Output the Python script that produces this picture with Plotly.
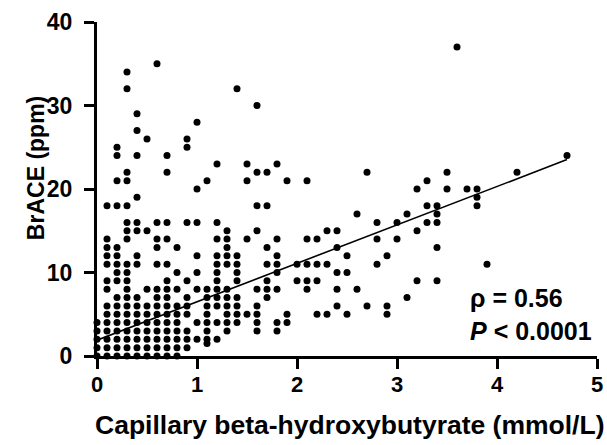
import plotly.graph_objects as go

# BHB (mmol/L) columns and BrACE (ppm) values per column
bhb_levels = [0.0, 0.1, 0.2, 0.3, 0.4, 0.5, 0.6, 0.7, 0.8, 0.9, 1.0,
              1.1, 1.2, 1.3, 1.4, 1.5, 1.6, 1.7, 1.8, 1.9, 2.0,
              2.1, 2.2, 2.3, 2.4, 2.5, 2.6, 2.7, 2.8, 2.9, 3.0,
              3.1, 3.2, 3.3, 3.4, 3.5, 3.6, 3.7, 3.8, 3.9, 4.2, 4.7]
brace_by_level = [
    [0, 1, 2, 3, 4],
    [18, 14, 13, 12, 11, 9, 8, 6, 5, 4, 3, 2, 1, 0],
    [25, 24, 21, 18, 13, 12, 11, 10, 9, 7, 6, 5, 4, 3, 2, 1, 0],
    [34, 32, 22, 21, 18, 16, 15, 14, 11, 10, 9, 8, 7, 6, 5, 4, 3, 2, 1, 0],
    [29, 27, 24, 19, 16, 15, 12, 11, 7, 6, 5, 4, 3, 2, 1, 0],
    [26, 15, 8, 6, 5, 4, 3, 2, 1, 0],
    [35, 16, 14, 13, 11, 8, 7, 6, 5, 4, 3, 2, 1, 0],
    [24, 22, 16, 14, 11, 9, 8, 7, 6, 5, 4, 3, 2, 1, 0],
    [13, 10, 8, 6, 5, 4, 3, 2, 1, 0],
    [26, 25, 16, 9, 7, 6, 5, 3, 2, 1],
    [28, 20, 16, 12, 10, 8, 4, 2],
    [21, 8, 7, 6, 5, 4, 3, 2, 1.5],
    [23, 16, 14, 12, 11, 10, 9, 8, 7, 6, 4, 2],
    [15, 14, 13, 12, 11, 8, 7, 6, 5, 4, 3],
    [32, 12, 11, 10, 9, 7, 6, 5, 4],
    [23, 21, 14, 5],
    [30, 22, 18, 15, 8, 6, 5, 4, 3],
    [22, 18, 13, 11, 9, 8, 7],
    [23, 14, 12, 11, 10, 8, 4, 3],
    [21, 5, 4],
    [11, 9],
    [21, 14, 11, 9, 8],
    [14, 11, 9, 5],
    [15, 11, 5],
    [15, 13, 10, 8, 6],
    [12, 10, 5],
    [17, 8],
    [22, 6],
    [16, 14, 11],
    [12, 6, 5],
    [16, 14],
    [17, 7],
    [20, 15, 9],
    [21, 18, 16],
    [18, 17, 16, 13, 9],
    [22, 20],
    [37],
    [20],
    [20, 19, 18],
    [11],
    [22],
    [24],
]

fit_intercept = 1.9
fit_slope = 4.6
fit_x = [0.0, 4.7]

x_ticks = [0, 1, 2, 3, 4, 5]
y_ticks = [0, 10, 20, 30, 40]
x_title = "Capillary beta-hydroxybutyrate (mmol/L)"
y_title = "BrACE (ppm)"
rho_text = "ρ = 0.56"
p_text = "<i>P</i> < 0.0001"

xs, ys = [], []
for lvl, vals in zip(bhb_levels, brace_by_level):
    for v in vals:
        xs.append(lvl)
        ys.append(v)

fit_y = [fit_intercept + fit_slope * v for v in fit_x]

FONT = "Arial, Liberation Sans, Helvetica, sans-serif"

fig = go.Figure()
fig.add_trace(go.Scatter(x=xs, y=ys, mode="markers",
                         marker=dict(color="black", size=7, line=dict(width=0)),
                         cliponaxis=False, showlegend=False))
fig.add_trace(go.Scatter(x=fit_x, y=fit_y, mode="lines",
                         line=dict(color="black", width=1.6),
                         cliponaxis=False, showlegend=False))

fig.add_annotation(x=3.71, y=7.0, xref="x", yref="y", text="<b>" + rho_text + "</b>",
                   showarrow=False, xanchor="left", yanchor="middle",
                   font=dict(family=FONT, size=25, color="black"))
fig.add_annotation(x=3.71, y=3.0, xref="x", yref="y", text="<b>" + p_text + "</b>",
                   showarrow=False, xanchor="left", yanchor="middle",
                   font=dict(family=FONT, size=25, color="black"))

# axis titles placed as annotations to match the reference positions
fig.add_annotation(x=0.505, y=-0.207, xref="paper", yref="paper",
                   text="<b>" + x_title + "</b>", showarrow=False,
                   xanchor="center", yanchor="middle",
                   font=dict(family=FONT, size=26.5, color="black"))
fig.add_annotation(x=-0.122, y=22.5, xref="paper", yref="y",
                   text="<b>" + y_title + "</b>", showarrow=False, textangle=-90,
                   xanchor="center", yanchor="middle",
                   font=dict(family=FONT, size=23, color="black"))

axis_common = dict(showline=True, linecolor="black", linewidth=3,
                   ticks="outside", ticklen=10, tickwidth=3, tickcolor="black",
                   showgrid=False, zeroline=False, automargin=False)

fig.update_xaxes(range=[0, 5], tickvals=x_ticks,
                 ticktext=["<b>%d</b>" % t for t in x_ticks],
                 tickfont=dict(family=FONT, size=22, color="black", weight=700),
                 ticklabelstandoff=-3, **axis_common)
fig.update_yaxes(range=[0, 40], tickvals=y_ticks,
                 ticktext=["<b>%d</b>" % t for t in y_ticks],
                 tickfont=dict(family=FONT, size=23, color="black", weight=700),
                 ticklabelstandoff=7, **axis_common)

fig.update_layout(width=607, height=445,
                  margin=dict(l=97, r=10, t=22, b=89, autoexpand=False),
                  plot_bgcolor="white", paper_bgcolor="white",
                  font=dict(family=FONT, color="black"))

# remove the default page margin so the 607x445 figure fills the window exactly
page_fix = ("document.body.style.margin='0';"
            "document.body.style.overflow='hidden';"
            "document.documentElement.style.overflow='hidden';")
fig.write_html("out.html", post_script=page_fix,
               config={"displayModeBar": False, "staticPlot": True})
